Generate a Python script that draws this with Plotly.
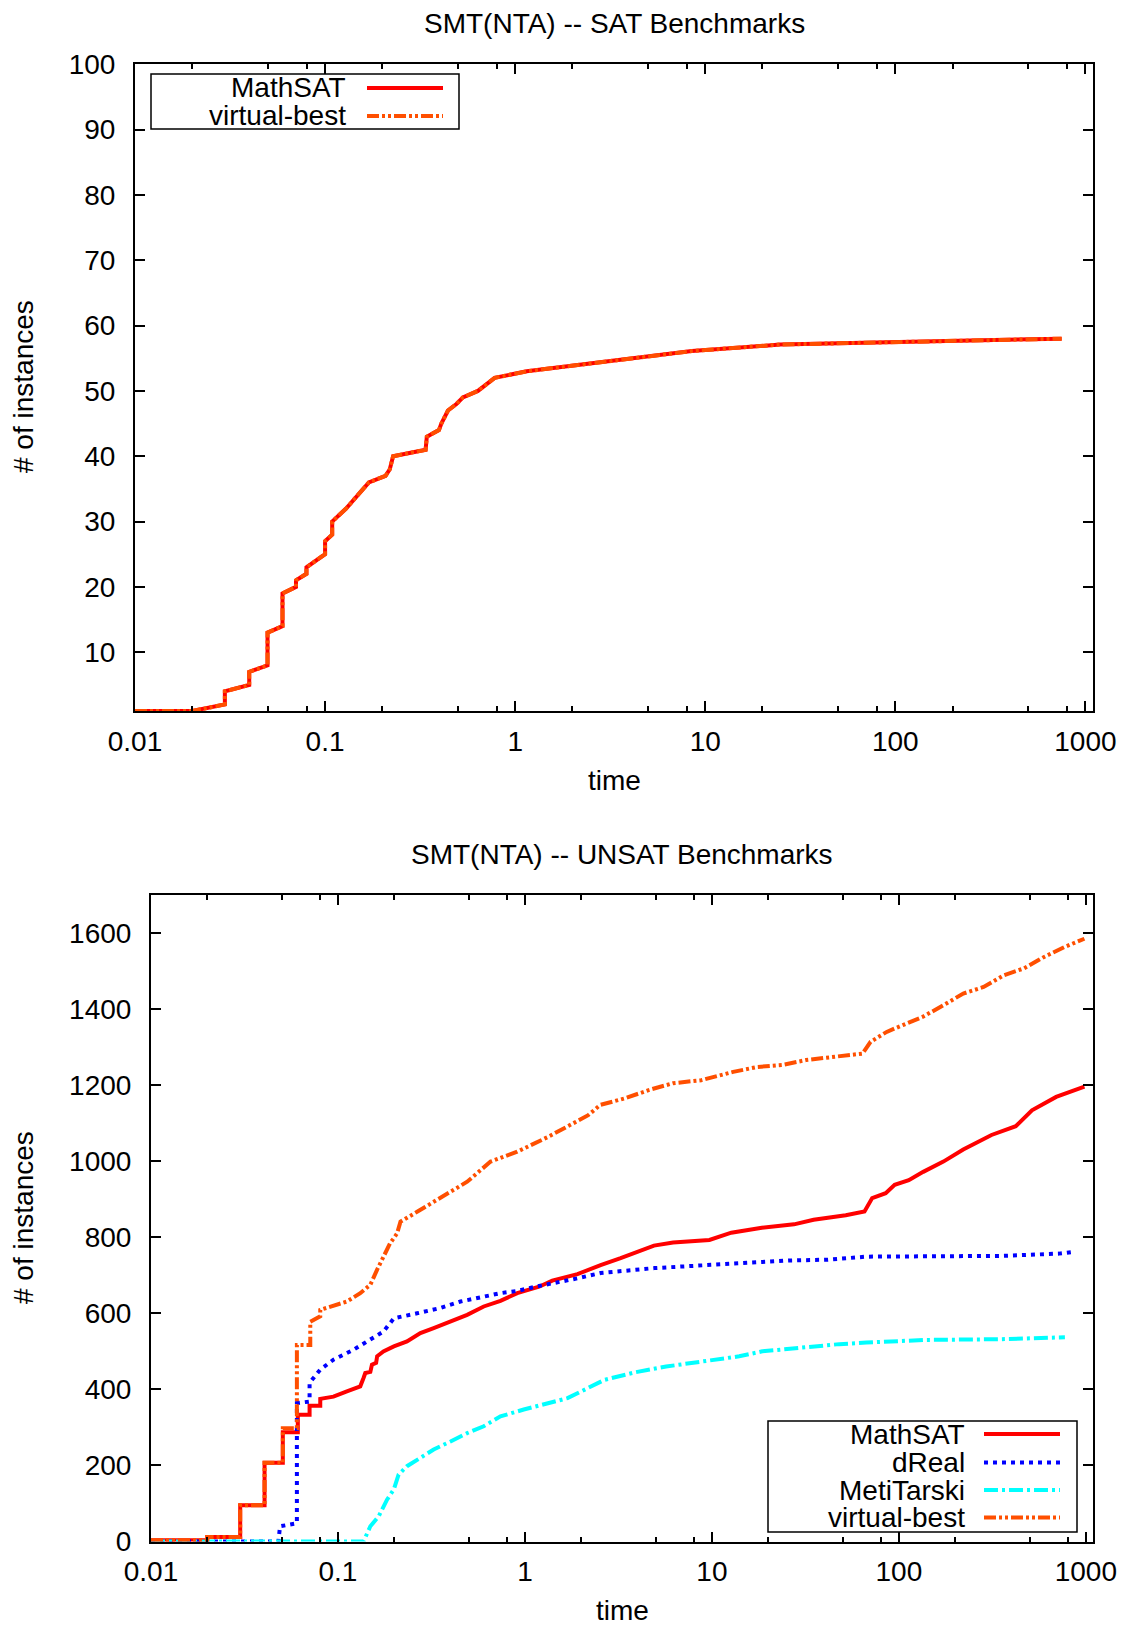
import plotly.graph_objects as go

# ---------------- data ----------------
# SAT benchmarks (top chart): MathSAT and virtual-best coincide
sat_time = [0.01, 0.02, 0.0297, 0.0297, 0.0399, 0.0399, 0.0498, 0.0498, 0.0597, 0.0597,
            0.0703, 0.0703, 0.0798, 0.0798, 0.1, 0.1, 0.109, 0.109, 0.129, 0.147, 0.17,
            0.208, 0.219, 0.228, 0.338, 0.343, 0.397, 0.409, 0.443, 0.491, 0.531, 0.637,
            0.78, 1.15, 2.64, 8.5, 24.8, 138, 750]
sat_mathsat = [1, 1, 2, 4, 5, 7, 8, 13, 14, 19,
               20, 21, 22, 23, 25, 27, 28, 30, 32, 34, 36,
               37, 38, 40, 41, 43, 44, 45, 47, 48, 49, 50,
               52, 53, 54.3, 56.1, 57.1, 57.5, 58]
sat_vbest = list(sat_mathsat)

# UNSAT benchmarks (bottom chart)
ms_time = [0.01, 0.02, 0.02, 0.03, 0.03, 0.0405, 0.0405, 0.0507, 0.0507, 0.061, 0.061,
           0.0705, 0.0705, 0.0804, 0.0804, 0.0946, 0.1116, 0.1316, 0.137, 0.14, 0.149,
           0.152, 0.16, 0.162, 0.175, 0.199, 0.234, 0.276, 0.325, 0.40, 0.491, 0.602,
           0.74, 0.91, 1.19, 1.4, 1.91, 2.54, 3.25, 4.9, 6.2, 9.7, 12.7, 18.5, 27.5, 35,
           52, 65.5, 72, 85, 95, 113, 135, 173, 221, 313, 422, 515, 694, 983]
ms_count = [3, 3, 12, 12, 95, 95, 207, 207, 287, 287, 333,
            333, 357, 357, 375, 381, 395, 408, 430, 443, 446,
            465, 470, 487, 500, 513, 526, 548, 561, 578, 596, 618,
            633, 653, 670, 686, 703, 727, 745, 778, 786, 793, 812, 825, 834, 846,
            858, 868, 903, 916, 938, 950, 972, 999, 1031, 1069, 1092, 1134, 1169, 1196]

dr_time = [0.01, 0.048, 0.049, 0.0603, 0.0603, 0.0705, 0.0705, 0.0804, 0.0946, 0.121,
           0.143, 0.175, 0.19, 0.199, 0.265, 0.353, 0.452, 0.602, 0.74, 0.91, 1.19,
           1.91, 2.54, 4.93, 10, 26, 41.7, 67, 352, 720, 867]
dr_count = [0, 0, 40, 48, 364, 368, 417, 452, 478, 504,
            526, 552, 574, 587, 600, 614, 631, 644, 653, 659, 672,
            692, 706, 719, 727, 739, 741, 749, 751, 757, 762]

mt_time = [0.01, 0.137, 0.149, 0.165, 0.183, 0.199, 0.211, 0.234, 0.276, 0.325, 0.40,
           0.491, 0.602, 0.74, 0.986, 1.37, 1.69, 2.66, 3.89, 5.69, 8.71, 14, 18.6,
           32.9, 48, 67, 136, 352, 773]
mt_count = [0, 0, 40, 66, 110, 137, 176, 198, 220, 242, 263,
            285, 303, 329, 347, 364, 377, 425, 445, 460, 474, 487, 500,
            513, 519, 523, 530, 532, 537]

vb_time = [0.01, 0.02, 0.02, 0.03, 0.03, 0.0405, 0.0405, 0.0507, 0.0507, 0.0603, 0.0603,
           0.0711, 0.0711, 0.0804, 0.0804, 0.091, 0.1116, 0.1316, 0.149, 0.162, 0.175,
           0.19, 0.207, 0.216, 0.265, 0.325, 0.40, 0.491, 0.655, 0.91, 1.33, 1.7, 2.18,
           2.53, 3.41, 4.59, 6.19, 8.77, 13, 17.6, 23.7, 31.9, 43, 63.9, 70.6, 86.1,
           105, 134.7, 172.7, 221, 284, 364, 467, 598, 767, 983]
vb_count = [3, 3, 12, 12, 95, 95, 207, 207, 298, 298, 517,
            517, 578, 592, 609, 618, 631, 653, 675, 715, 749,
            784, 810, 841, 867, 894, 920, 946, 999, 1025, 1064, 1091, 1121,
            1148, 1165, 1187, 1205, 1213, 1235, 1248, 1253, 1266, 1274, 1283, 1314, 1340,
            1358, 1380, 1410, 1441, 1458, 1489, 1507, 1537, 1563, 1585]

x_tickvals = [0.01, 0.1, 1, 10, 100, 1000]
x_ticktext = ["0.01", "0.1", "1", "10", "100", "1000"]
x_minor = [m * d for d in [0.01, 0.1, 1, 10, 100] for m in (2, 5, 8)]
sat_yticks = [10, 20, 30, 40, 50, 60, 70, 80, 90, 100]
unsat_yticks = [0, 200, 400, 600, 800, 1000, 1200, 1400, 1600]

# ---------------- styles ----------------
W, H = 1131, 1625
FONT = "Liberation Sans, Arial, Helvetica, sans-serif"
FS = 28
C_MS, C_DR, C_MT, C_VB = "#ff0000", "#0000ff", "#00ffff", "#ff4f00"
D_MS = "solid"
D_DR = "4px,5px"
D_MT = "14px,4px,3px,4px"
D_VB = "12px,3px,3px,3px,3px,3px"
LW = 4


def fx(p):
    return p / W


def fy(p):
    return 1 - p / H


fig = go.Figure()

# top chart
fig.add_trace(go.Scatter(x=sat_time, y=sat_mathsat, mode="lines", name="MathSAT",
                         line=dict(color=C_MS, width=LW, dash=D_MS), xaxis="x", yaxis="y"))
fig.add_trace(go.Scatter(x=sat_time, y=sat_vbest, mode="lines", name="virtual-best",
                         line=dict(color=C_VB, width=LW, dash=D_VB), xaxis="x", yaxis="y"))

# bottom chart
fig.add_trace(go.Scatter(x=ms_time, y=ms_count, mode="lines", name="MathSAT",
                         line=dict(color=C_MS, width=LW, dash=D_MS), xaxis="x2", yaxis="y2"))
fig.add_trace(go.Scatter(x=dr_time, y=dr_count, mode="lines", name="dReal",
                         line=dict(color=C_DR, width=LW, dash=D_DR), xaxis="x2", yaxis="y2"))
fig.add_trace(go.Scatter(x=mt_time, y=mt_count, mode="lines", name="MetiTarski",
                         line=dict(color=C_MT, width=LW, dash=D_MT), xaxis="x2", yaxis="y2"))
fig.add_trace(go.Scatter(x=vb_time, y=vb_count, mode="lines", name="virtual-best",
                         line=dict(color=C_VB, width=LW, dash=D_VB), xaxis="x2", yaxis="y2"))

common_axis = dict(showline=True, linecolor="black", linewidth=2, mirror="ticks",
                   ticks="inside", ticklen=10, tickwidth=1.5, tickcolor="black",
                   showgrid=False, zeroline=False, automargin=False,
                   tickfont=dict(family=FONT, size=FS, color="black"))

xcommon = dict(common_axis, type="log", range=[-2, 3.04], tickmode="array",
               tickvals=x_tickvals, ticktext=x_ticktext, ticklabelstandoff=4,
               minor=dict(tickmode="array", tickvals=x_minor, ticks="inside",
                          ticklen=5, tickwidth=1.5, tickcolor="black", showgrid=False))

fig.update_layout(
    template="none",
    width=W, height=H, margin=dict(l=0, r=0, t=0, b=0, autoexpand=False),
    paper_bgcolor="white", plot_bgcolor="white", showlegend=False,
    font=dict(family=FONT, size=FS, color="black"),
    xaxis=dict(xcommon, domain=[fx(135), fx(1093)], anchor="y"),
    yaxis=dict(common_axis, domain=[fy(711), fy(64.3)], anchor="x", range=[1, 100],
               tickmode="array", tickvals=sat_yticks, ticklabelstandoff=12),
    xaxis2=dict(xcommon, domain=[fx(151), fx(1093.3)], anchor="y2"),
    yaxis2=dict(common_axis, domain=[fy(1541.5), fy(895)], anchor="x2", range=[0, 1700],
                tickmode="array", tickvals=unsat_yticks, ticklabelstandoff=12),
)

ann = []
shapes = []


def text(x, y, s, anchor="center", angle=0):
    ann.append(dict(x=fx(x), y=fy(y), xref="paper", yref="paper", text=s, showarrow=False,
                    xanchor=anchor, yanchor="middle", textangle=angle,
                    font=dict(family=FONT, size=FS, color="black")))


# titles and axis titles
text(614, 23, "SMT(NTA) -- SAT Benchmarks")
text(622, 854, "SMT(NTA) -- UNSAT Benchmarks")
text(614, 780, "time")
text(622, 1610, "time")
text(23, 387, "# of instances", angle=-90)
text(23, 1218, "# of instances", angle=-90)


def legend(box, text_right, line_x, entries):
    x0, y0, x1, y1 = box
    shapes.append(dict(type="rect", xref="paper", yref="paper", x0=fx(x0), x1=fx(x1),
                       y0=fy(y0), y1=fy(y1), line=dict(color="black", width=1.5),
                       fillcolor="white", layer="above"))
    for yy, name, color, dash in entries:
        text(text_right, yy, name, anchor="right")
        shapes.append(dict(type="line", xref="paper", yref="paper", x0=fx(line_x[0]),
                           x1=fx(line_x[1]), y0=fy(yy), y1=fy(yy),
                           line=dict(color=color, width=LW, dash=dash), layer="above"))


legend((151, 74, 459, 129), 348, (367, 443),
       [(88, "MathSAT", C_MS, D_MS), (116, "virtual-best", C_VB, D_VB)])
legend((768, 1421, 1077, 1532), 967, (984, 1060),
       [(1434, "MathSAT", C_MS, D_MS), (1462.5, "dReal", C_DR, D_DR),
        (1490, "MetiTarski", C_MT, D_MT), (1517.5, "virtual-best", C_VB, D_VB)])

fig.update_layout(annotations=ann, shapes=shapes)
fig.write_html("out.html")
